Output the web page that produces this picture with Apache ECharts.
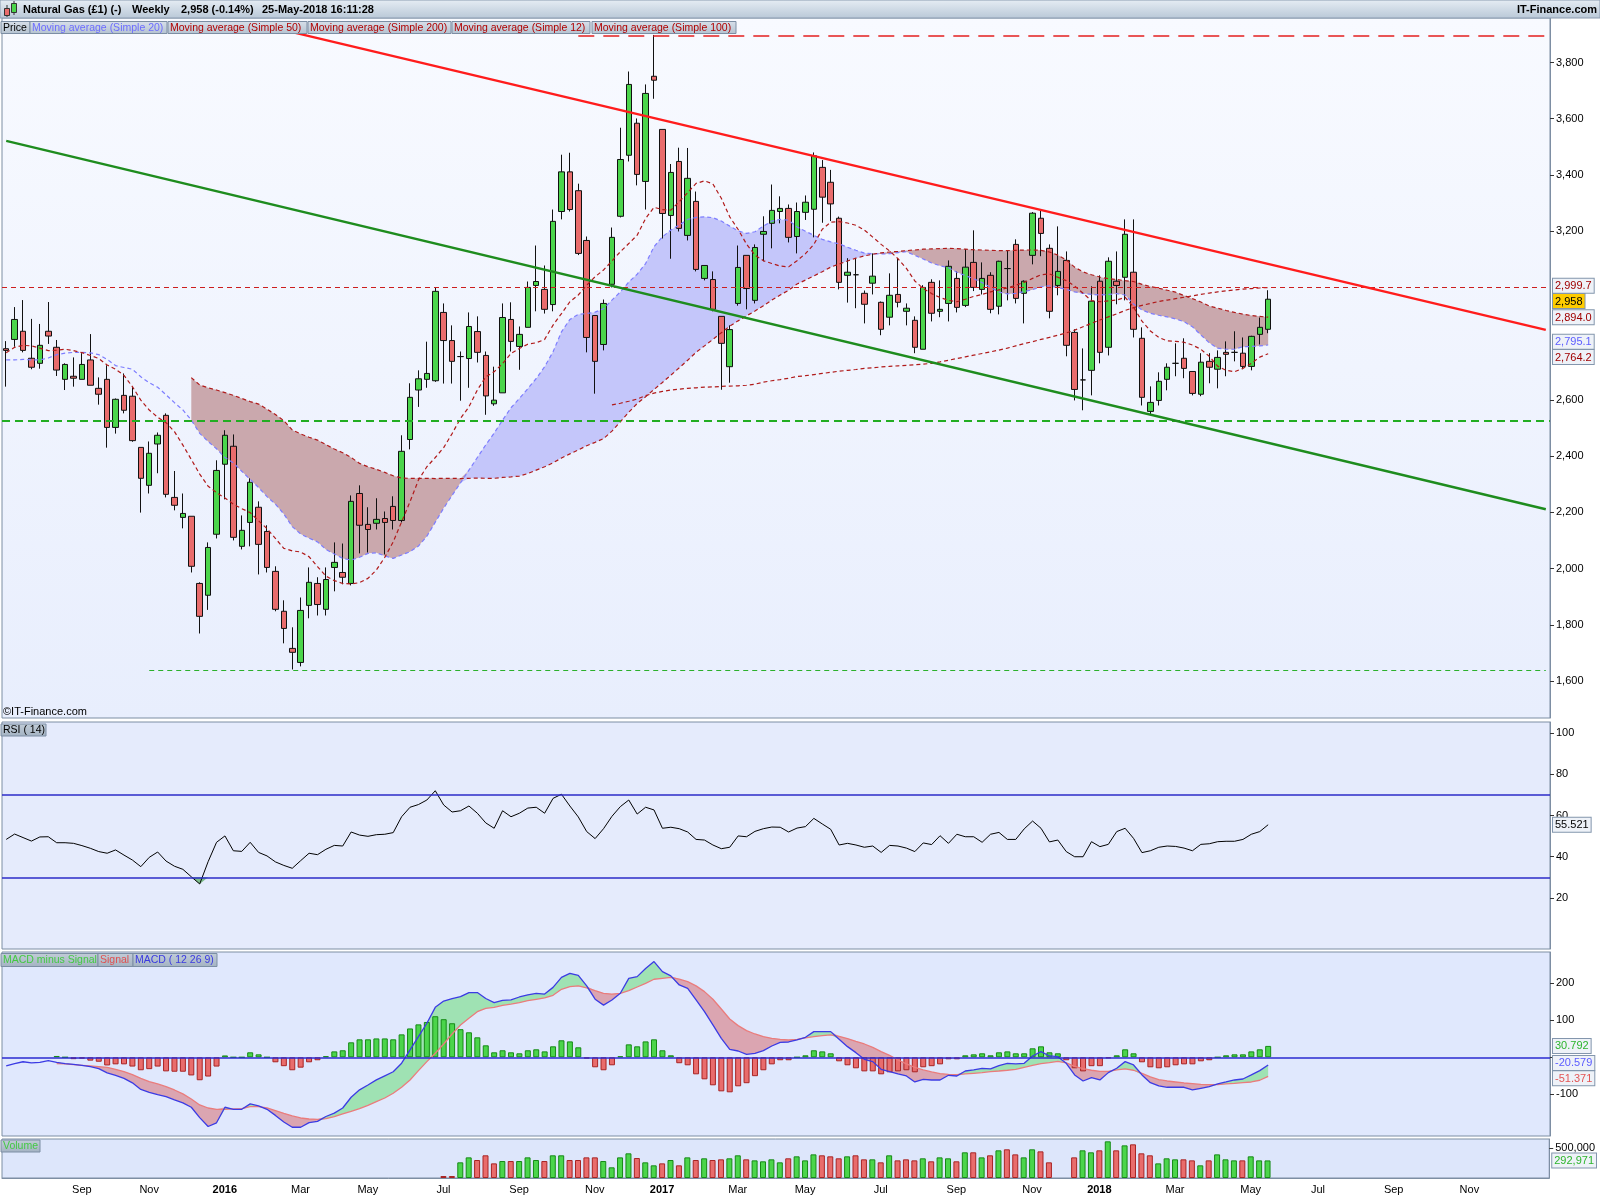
<!DOCTYPE html>
<html><head><meta charset="utf-8">
<script src="https://cdn.jsdelivr.net/npm/echarts@6/dist/echarts.min.js"></script>
<style>html,body{margin:0;padding:0;background:#fff}#c{width:1600px;height:1200px}</style>
</head><body><div id="c"></div>
<script>
// ---------- DATA ----------
const firstWeek = '2015-07-06';   // first weekly candle (Monday)
const weekCount = 184;            // axis runs on into future weeks
const monthNames = ['Jan','Feb','Mar','Apr','May','Jun','Jul','Aug','Sep','Oct','Nov','Dec'];

const openP = [2782,2815,2844,2748,2730,2844,2787,2673,2684,2673, 2742,2641,2673,2502,2616,2613,2431,2296,2443,2545,
 2253,2182,2186,1947,1905,2122,2371,2435,2079,2164, 2218,2132,1990,1848,1716,1666,1869,1947,1855,2004,
 1986,1947,2267,2157,2161,2178,2221,2171,2459,2635, 2673,2668,2911,2811,2754,2747,2843,2758,2586,2625,
 2886,2790,2858,3007,2993,2939,3270,3411,3344,3167, 2900,2797,3011,3253,3470,3584,3377,3751,3562,3256,
 3448,3185,3306,3032,3028,2897,2718,2943,3114,2954, 3189,3228,3270,3281,3181,3267,3278,3427,3374,3246,
 3043,3045,2979,3015,2947,2894,2975,2915,2883,2780, 3018,2915,2943,3032,2936,3089,2993,3043,2933,3067,
 3153,2979,3114,3246,3139,3007,3096,2840,2671,2705, 3022,2787,3022,3036,3054,2819,2559,2598,2673,2730,
 2748,2701,2620,2737,2709,2769,2769,2766,2719,2833, 2851];
const closeP = [2776,2886,2776,2716,2794,2827,2706,2726,2677,2726, 2652,2620,2502,2602,2563,2455,2321,2410,2474,2264,
 2225,2196,2008,1830,2075,2349,2474,2111,2136,2307, 2086,2004,1855,1787,1702,1851,1951,1872,1961,2022,
 1969,2239,2154,2139,2175,2164,2171,2417,2609,2675, 2694,2986,2811,2737,2754,2861,2769,2614,2599,2893,
 2808,2833,3000,3021,2922,3235,3411,3277,3121,2822, 2737,2943,3178,3455,3722,3402,3690,3737,3263,3409,
 3210,3388,3064,3078,2922,2801,2850,3071,2996,3142, 3199,3274,3281,3178,3270,3303,3468,3321,3297,3018,
 3054,3045,2940,3040,2851,2972,2947,2926,2787,3000, 2908,2922,3075,2929,3072,3000,3032,2922,3093,3067,
 2961,3022,3264,3192,2915,3057,2794,2637,2671,2951, 2769,3093,3007,3189,2851,2609,2591,2666,2716,2730,
 2712,2623,2734,2716,2751,2762,2769,2719,2826,2858, 2958];
const lowP = [2647,2789,2769,2709,2711,2799,2685,2635,2647,2673, 2652,2583,2430,2480,2552,2451,2199,2267,2339,2253,
 2207,2143,1986,1769,1853,2107,2246,2100,2068,2079, 1979,1986,1848,1734,1641,1652,1823,1833,1833,1919,
 1944,1940,2054,2057,2139,2050,2139,2164,2424,2575, 2643,2664,2658,2658,2597,2643,2733,2547,2579,2625,
 2772,2707,2858,2915,2907,2915,3242,3270,3115,2769, 2622,2776,3000,3249,3448,3363,3277,3671,3174,3102,
 3199,3167,3057,3025,2915,2636,2661,2935,2922,2943, 3093,3139,3228,3160,3121,3240,3178,3230,3236,2993,
 2946,2926,2872,2975,2830,2865,2929,2865,2766,2780, 2879,2894,2879,2911,2930,2987,2975,2908,2904,2954,
 2943,2872,3082,3111,2890,2972,2755,2598,2563,2616, 2730,2758,2940,2954,2822,2580,2548,2580,2634,2684,
 2677,2616,2613,2659,2641,2684,2737,2709,2705,2797, 2837];
const highP = [2809,2930,2955,2888,2870,2948,2813,2730,2751,2766, 2834,2680,2723,2605,2694,2645,2431,2452,2484,2552,
 2347,2267,2186,1951,2093,2385,2492,2477,2189,2321, 2239,2154,2008,1887,1791,1897,2004,1969,2004,2093,
 2089,2260,2296,2218,2250,2203,2257,2474,2659,2705, 2807,3000,2943,2865,2772,2911,2897,2772,2718,2943,
 2947,2861,3021,3149,3078,3277,3472,3479,3369,3181, 2900,2957,3213,3568,3768,3601,3722,3898,3562,3439,
 3497,3496,3341,3078,3057,2897,2865,3149,3114,3153, 3253,3366,3324,3295,3302,3327,3480,3453,3418,3252,
 3104,3104,2989,3121,2950,3050,3104,2943,2897,3008, 3029,3025,3096,3057,3136,3203,3089,3054,3095,3132,
 3171,3025,3268,3272,3153,3217,3128,2851,2783,3004, 3043,3107,3128,3242,3242,2858,2648,2698,2730,2801,
 2819,2701,2766,2766,2776,2808,2844,2822,2828,2893, 2990];

const ma20 = [2742,2742,2744,2742,2742,2749,2761,2766,2769,2769, 2767,2761,2744,2722,2715,2709,2682,2661,2645,2618,
 2590,2564,2528,2481,2452,2426,2395,2376,2346,2317, 2288,2256,2229,2194,2149,2123,2108,2095,2068,2052,
 2036,2030,2040,2054,2056,2045,2036,2048,2060,2080, 2115,2165,2215,2260,2305,2350,2395,2440,2482,2528,
 2572,2605,2640,2676,2718,2771,2842,2886,2904,2907, 2912,2924,2955,2984,3019,3047,3085,3145,3180,3204,
 3222,3242,3249,3251,3248,3236,3218,3201,3192,3198, 3218,3236,3242,3239,3215,3200,3185,3171,3162,3155,
 3143,3132,3122,3120,3119,3120,3124,3127,3114,3101, 3087,3077,3070,3054,3042,3031,3017,3000,2983,2977,
 2979,2985,2992,3002,3006,2999,2993,2984,2979,2975, 2973,2975,2978,2973,2941,2920,2908,2901,2895,2888,
 2878,2860,2831,2803,2784,2780,2780,2789,2790,2792, 2795.1];
const ma50 = [null,null,null,null,null,null,null,null,null,null, null,null,null,null,null,null,null,null,null,null,
 null,null,2679,2653,2643,2635,2626,2616,2605,2594, 2585,2567,2548,2526,2493,2479,2467,2457,2441,2425,
 2412,2395,2374,2362,2353,2342,2330,2322,2321,2321, 2321,2320,2321,2321,2320,2321,2322,2321,2321,2324,
 2326,2329,2338,2350,2362,2376,2393,2408,2422,2437, 2449,2462,2489,2522,2556,2587,2611,2637,2662,2688,
 2714,2741,2769,2792,2815,2839,2862,2881,2899,2916, 2935,2955,2973,2990,3012,3026,3041,3056,3072,3083,
 3094,3104,3112,3118,3123,3126,3128,3131,3133,3136, 3137,3138,3139,3138,3136,3134,3133,3132,3131,3131,
 3132,3133,3133,3132,3126,3115,3098,3072,3055,3045, 3037,3031,3028,3024,3021,3011,3003,2997,2990,2983,
 2971,2960,2948,2934,2926,2918,2911,2905,2900,2897, 2894.0];
const ma12 = [2768,2787,2794,2792,2784,2775,2777,2780,2775,2768, 2758,2747,2724,2709,2687,2647,2599,2564,2538,2519,
 2487,2439,2388,2336,2293,2270,2251,2229,2213,2199, 2170,2142,2107,2072,2063,2059,2042,2007,1973,1957,
 1947,1945,1950,1965,1995,2040,2095,2166,2238,2315, 2362,2395,2430,2480,2534,2575,2635,2682,2700,2729,
 2765,2783,2798,2803,2815,2866,2907,2949,2973,3008, 3038,3062,3094,3127,3156,3186,3245,3285,3277,3275,
 3305,3337,3370,3379,3368,3317,3251,3206,3154,3115, 3095,3085,3076,3073,3095,3120,3153,3207,3232,3234,
 3229,3221,3204,3179,3153,3130,3102,3068,3023,2996, 2978,2964,2954,2949,2958,2968,2975,2984,2991,2998,
 3008,3018,3032,3045,3048,3036,3024,3005,2979,2953, 2949,2952,2955,2965,2930,2880,2845,2822,2810,2808,
 2805,2795,2780,2755,2720,2705,2700,2712,2730,2752, 2764.2];
const ma100 = [null,null,null,null,null,null,null,null,null,null, null,null,null,null,null,null,null,null,null,null,
 null,null,null,null,null,null,null,null,null,null, null,null,null,null,null,null,null,null,null,null,
 null,null,null,null,null,null,null,null,null,null, null,null,null,null,null,null,null,null,null,null,
 null,null,null,null,null,null,null,null,null,null, null,null,2582,2588,2595,2603,2615,2624,2630,2635,
 2638,2641,2643,2645,2646,2648,2649,2650,2652,2656, 2663,2668,2672,2677,2683,2686,2690,2694,2698,2702,
 2705,2708,2712,2714,2717,2719,2721,2723,2725,2727, 2730,2735,2741,2747,2753,2759,2765,2771,2777,2784,
 2792,2800,2807,2815,2822,2830,2838,2848,2860,2872, 2884,2895,2906,2918,2928,2936,2943,2950,2955,2960,
 2965,2970,2975,2980,2984,2988,2991,2994,2996,2998, 2999.7];

const rsi = [48.4,51.0,49.3,47.6,49.6,49.7,46.8,46.8,46.5,45.4, 44.1,42.5,41.7,43.3,40.8,38.4,35.2,39.7,42.3,37.9,
 35.4,33.9,30.3,26.8,37.6,47.0,50.1,42.9,42.6,47.0, 42.1,40.4,37.5,35.8,34.4,38.1,41.7,41.0,43.6,45.5,
 45.2,52.0,50.5,49.9,50.7,50.9,51.7,59.4,64.0,65.3, 67.5,72.0,65.1,61.7,62.3,64.6,61.1,56.4,53.8,62.3,
 59.4,61.1,63.6,64.0,61.1,68.3,70.3,64.6,59.3,52.2, 48.8,53.6,59.6,64.3,67.5,60.7,64.0,62.7,53.8,54.3,
 53.6,52.0,48.4,48.1,45.7,43.9,44.6,50.1,49.7,52.3, 53.6,54.4,54.3,52.0,53.9,54.6,58.6,55.9,53.3,45.7,
 46.5,45.7,44.6,45.2,42.1,45.5,45.2,44.2,42.5,46.7, 45.9,50.2,46.5,50.9,49.7,49.7,47.0,50.9,51.8,48.4,
 48.4,53.5,57.3,53.8,47.2,48.1,42.5,40.0,40.0,47.3, 44.9,46.0,52.2,53.8,48.9,42.0,42.9,44.6,45.2,45.0,
 44.2,42.9,46.0,46.3,47.3,47.5,47.5,48.4,50.9,52.2, 55.521];
const rsiLevels = [70, 30];

const macd = [-23,-17,-12,-15,-13.5,-9,-13.5,-17,-19,-21.6, -25,-30.6,-42,-48.6,-56.8,-69,-87,-94.6,-101,-106,
 -115,-123,-135,-163,-187,-177,-135,-140.5,-140.5,-126, -131.5,-140.5,-157,-175,-189,-189,-176.6,-173,-160,-151,
 -137,-108,-88,-75,-61,-50,-39,-16,20,56, 92,135,152,158.5,164,175,175,159,148,154,
 155,163,169,173,171,189,216,227,221.6,193, 157,141,155,173,213.5,218,240,258.6,231.5,220,
 195.5,186.5,155,123.4,87.4,51.4,21.6,17,8,10.8, 18,30.6,40.5,41.4,46.8,54,69.4,69.4,69.4,48.6,
 28.8,12.6,-5.4,-11.7,-32.4,-38.7,-45,-50.5,-66.7,-59.5, -61.3,-61.3,-48.6,-50.5,-37,-34.2,-29.7,-31.5,-22.5,-16.2,
 -18,-16.2,3.6,15.3,3.6,1.8,-16.2,-47.7,-64,-55, -61.3,-41.4,-29.7,-11.7,-20.7,-47.7,-68.5,-77.5,-81,-81,
 -81,-88.3,-83.8,-79.3,-72,-66.7,-61.3,-58.6,-47.7,-36, -20.579];
const signal = [null,null,null,null,null,null,-17,-18,-19.8,-21.6, -23.4,-25.2,-27,-32.4,-38.7,-46.8,-56.8,-65.8,-72,-79.3,
 -88.3,-99,-112.6,-128.8,-137,-140.5,-140.5,-139.6,-138.7,-133.3, -133.3,-137,-144,-151.4,-158.6,-164,-166.7,-167.6,-165.8,-160.4,
 -153,-146,-138.7,-129.7,-119.8,-110,-97.3,-81,-61.3,-36, -11.7,10.8,36,63,87.4,105.4,123.4,132.4,135,140.5,
 144,147.7,153,156.8,160.4,167.6,183.8,191,192.8,187.4, 180,173,171,173,180,190,200,211,213.5,216,
 211,204.5,193,177.5,157,130.6,103.6,85.6,72,63, 55.9,51.4,48.6,46.8,48.6,52.3,55.9,58.6,60.4,56.8,
 50.5,43.2,36,27,15.3,5.4,-7.2,-18,-27,-34.2, -39.6,-44,-46,-46.8,-45,-43.2,-41.4,-38.7,-37,-35,
 -32.4,-27,-21.6,-17,-14.4,-10.8,-15.3,-24.3,-30.6,-35, -37.8,-37.8,-34.2,-31.5,-35,-43.2,-53,-60.4,-64,-66.7,
 -69.4,-71.2,-73,-73.9,-73.9,-72,-70.3,-68.5,-66.7,-62, -51.371];
const hist = [null,null,null,null,null,null,3.6,0,-5,-3.6, -9,-12,-22,-19,-19,-25,-35,-32,-25,-38,
 -39,-39,-49,-62,-52,-25,5,0,0,13.5, 8,0,-13.5,-24,-35,-28,-13.5,-8,3,16,
 19,40.5,48.6,48.6,51,51,48.6,62,78,89, 95.5,111,103,92,76,67.6,54,32.4,13.5,19,
 13.5,10.8,19,21.6,16,29.7,46,43,27,-3.6, -27,-35,-21.6,2.7,35,29.7,43,48.6,19,5.4,
 -16,-21.6,-46,-59.5,-75.7,-92,-94.6,-78.4,-70,-51, -35,-19,-8,-8,0,5.4,19,16,10.8,-10.8,
 -21.6,-29.7,-38,-38,-46,-40.5,-38,-35,-40.5,-27, -24,-19,-5.4,-5.4,5.4,8,10.8,5.4,13.5,16,
 10.8,10.8,24.3,29.7,13.5,10.8,-8,-29.7,-38,-24, -24,-2.7,5.4,21.6,10.8,-13.5,-27,-29.7,-27,-21.6,
 -19,-19,-10.8,-8,0,5.4,8,8,16,21.6, 30.792];

const volume = [null,null,null,null,null,null,null,null,null,null, null,null,null,null,null,null,null,null,null,null,
 null,null,null,null,null,null,null,null,null,null, null,null,null,null,null,null,null,null,null,null,
 null,null,null,null,null,null,null,null,null,null, null,null,33000,33000,261000,344000,300000,378000,244000,283000,
 283000,283000,344000,300000,283000,378000,378000,300000,300000,344000, 344000,283000,178000,344000,411000,333000,261000,211000,244000,300000,
 211000,344000,300000,328000,300000,311000,328000,378000,311000,294000, 278000,311000,261000,328000,361000,294000,394000,378000,361000,328000,
 361000,378000,311000,311000,261000,378000,294000,311000,294000,328000, 278000,344000,328000,278000,428000,428000,344000,378000,461000,478000,
 394000,344000,478000,444000,261000,null,null,344000,461000,428000, 461000,611000,461000,544000,561000,411000,378000,244000,328000,311000,
 311000,294000,211000,294000,394000,311000,294000,294000,361000,294000, 292971];

// annotations drawn on the price panel: [weekIndex, price]
const redTrend = [[30, 3936.5], [183, 2849]];
const greenTrend = [[0, 3521], [183, 2211]];
const supportLevel = 2525;
const lowLevel = [[17, 1639], [183, 1639]];
const highLevel = [[68, 3896], [183, 3896]];
const refLevel = 2999.7;

const priceTicks = [1600,1800,2000,2200,2400,2600,3200,3400,3600,3800];
const rsiTicks = [20,40,60,80,100];
const macdTicks = [-100,100,200];
const macdTickMarks = [-100,0,100,200];
const volTicks = [500000];

// ---------- BUILD ----------
const cats = [];
{ const d0 = Date.parse(firstWeek + 'T00:00:00Z');
  for (let k = 0; k < weekCount; k++) cats.push(new Date(d0 + k * 7 * 86400000).toISOString().slice(0, 10)); }
const isLabelWeek = (idx) => idx > 0 && idx < cats.length - 3 && cats[idx].slice(5,7) !== cats[idx-1].slice(5,7) && (+cats[idx].slice(5,7)) % 2 === 1;
const last = a => a[a.length - 1];
const fmt = (v, d) => v.toLocaleString('en-US', {minimumFractionDigits: d, maximumFractionDigits: d});

const GREEN = '#4bd54b', RED = '#e96c6c', GREEN_B = '#168a16', RED_B = '#a82424';
const FONT = 'Liberation Sans, Arial, sans-serif';

const candles = openP.map((o, i) => [o, closeP[i], lowP[i], highP[i]]);
const maLow = ma20.map((v, i) => (v == null || ma50[i] == null) ? null : Math.min(v, ma50[i]));
const maBlue = ma20.map((v, i) => (v == null || ma50[i] == null) ? null : Math.max(v - ma50[i], 0));
const maBrown = ma20.map((v, i) => (v == null || ma50[i] == null) ? null : Math.max(ma50[i] - v, 0));
const rsiLow = rsi.map(v => Math.min(v, rsiLevels[1]));
const rsiDip = rsi.map(v => rsiLevels[1] - Math.min(v, rsiLevels[1]));
const mcLow = macd.map((v, i) => signal[i] == null ? null : Math.min(v, signal[i]));
const mcUp = macd.map((v, i) => signal[i] == null ? null : Math.max(v - signal[i], 0));
const mcDn = macd.map((v, i) => signal[i] == null ? null : Math.max(signal[i] - v, 0));
const histData = hist.map(v => v == null ? null : {value: v, itemStyle: {color: v >= 0 ? GREEN : RED, borderColor: v >= 0 ? GREEN_B : RED_B, borderWidth: 1}});
const volData = volume.map((v, i) => { if (v == null) return null; const up = closeP[i] >= closeP[i-1];
  return {value: v, itemStyle: {color: up ? GREEN : RED, borderColor: up ? GREEN_B : RED_B, borderWidth: 1}}; });

const boxBase = {fontSize: 11, fontFamily: FONT, backgroundColor: '#eef2f8', borderColor: '#8396ad', borderWidth: 1, padding: [2, 2, 1, 2], lineHeight: 11};
const rich = {
  ma: Object.assign({}, boxBase, {color: '#a00000'}),
  px: Object.assign({}, boxBase, {color: '#000', backgroundColor: '#ffcc00'}),
  bl: Object.assign({}, boxBase, {color: '#5c5cff'}),
  bk: Object.assign({}, boxBase, {color: '#000'}),
  gr: Object.assign({}, boxBase, {color: '#2db52d'}),
  rd: Object.assign({}, boxBase, {color: '#e35555'})
};
const priceMarks = [{v: last(ma100), s: 'ma', d: 1}, {v: last(closeP), s: 'px', d: 0}, {v: last(ma50), s: 'ma', d: 1},
                    {v: last(ma20), s: 'bl', d: 1}, {v: last(ma12), s: 'ma', d: 1}];
const rsiMarks = [{v: last(rsi), s: 'bk', d: 3}];
const macdMarks = [{v: last(hist), s: 'gr', d: 3}, {v: last(macd), s: 'bl', d: 3}, {v: last(signal), s: 'rd', d: 3}];
const volMarks = [{v: last(volume), s: 'gr', d: 0}];

const grids = [
  {left: 2, right: 50, top: 18, height: 700},
  {left: 2, right: 50, top: 722, height: 227},
  {left: 2, right: 50, top: 952, height: 184},
  {left: 2, right: 50, top: 1139, height: 39}
];
const gridBg = [
  {type: 'linear', x: 0, y: 0, x2: 0, y2: 1, colorStops: [{offset: 0, color: '#f8faff'}, {offset: 1, color: '#e8eefd'}]},
  '#e5ebfc', '#e0e8fd', '#dde6fb'
];
grids.forEach((g, k) => Object.assign(g, {show: true, backgroundColor: gridBg[k], borderColor: '#7d8ea3', borderWidth: 1}));

const xAxes = grids.map((g, k) => ({
  type: 'category', gridIndex: k, data: cats, boundaryGap: true, show: k === 3,
  axisLine: {lineStyle: {color: '#7d8ea3'}},
  axisTick: {interval: isLabelWeek, alignWithLabel: true, length: 5, lineStyle: {color: '#333'}},
  axisLabel: {interval: isLabelWeek, margin: 6, fontSize: 11, color: '#000', fontFamily: FONT,
    formatter: v => { const m = +v.slice(5, 7); return m === 1 ? '{y|' + v.slice(0, 4) + '}' : monthNames[m - 1]; },
    rich: {y: {fontWeight: 'bold', fontSize: 11, fontFamily: FONT, color: '#000'}}},
  splitLine: {show: false}
}));

const ranges = [[1468.4, 3958.3], [-4.73, 105.33], [-212.7, 284.6], [0, 650000]];
const tickLists = [priceTicks, rsiTicks, macdTicks, volTicks];
const tickMarkLists = [priceTicks, rsiTicks, macdTickMarks, volTicks];
const markLists = [priceMarks, rsiMarks, macdMarks, volMarks];
const yAxes = [];
ranges.forEach((r, k) => {
  yAxes.push({type: 'value', gridIndex: k, position: 'right', min: r[0], max: r[1], scale: true,
    axisLine: {show: true, lineStyle: {color: '#7d8ea3'}},
    axisTick: {show: true, customValues: tickMarkLists[k], length: 4, lineStyle: {color: '#333'}},
    axisLabel: {customValues: tickLists[k], margin: 6, fontSize: 11, color: '#000', fontFamily: FONT,
      showMinLabel: true, showMaxLabel: true, formatter: v => fmt(v, 0)},
    splitLine: {show: false}});
});
// last-value boxes: spread apart vertically like the reference (min 15px between box centres)
function spreadBoxes(marks, range, heightPx) {
  const gap = 15.3 * (range[1] - range[0]) / heightPx;
  const pos = marks.map(m => m.v);
  for (let it = 0; it < 20; it++) {
    for (let i = 1; i < pos.length; i++) {
      const diff = pos[i - 1] - pos[i];
      if (diff < gap) { const d = (gap - diff) / 2; pos[i - 1] += d; pos[i] -= d; }
    }
  }
  return pos;
}
ranges.forEach((r, k) => {
  const pos = spreadBoxes(markLists[k], r, grids[k].height);
  markLists[k].forEach((m, j) => {
    yAxes.push({type: 'value', gridIndex: k, position: 'right', min: r[0], max: r[1], scale: true,
      axisLine: {show: false}, axisTick: {show: false}, splitLine: {show: false},
      axisLabel: {customValues: [pos[j]], margin: 3, showMinLabel: true, showMaxLabel: true,
        formatter: () => '{' + m.s + '|' + fmt(m.v, m.d) + '}', rich: rich}});
  });
});

const noLine = {opacity: 0, width: 0};
const series = [
  // MA20 / MA50 band
  {type: 'line', xAxisIndex: 0, yAxisIndex: 0, data: maLow, stack: 'maf', stackStrategy: 'all', symbol: 'none', lineStyle: noLine, silent: true, z: 1},
  {type: 'line', xAxisIndex: 0, yAxisIndex: 0, data: maBlue, stack: 'maf', stackStrategy: 'all', symbol: 'none', lineStyle: noLine, areaStyle: {color: '#c4c6fa', opacity: 1}, silent: true, z: 1},
  {type: 'line', xAxisIndex: 0, yAxisIndex: 0, data: maBrown, stack: 'maf', stackStrategy: 'all', symbol: 'none', lineStyle: noLine, areaStyle: {color: '#caa8ad', opacity: 1}, silent: true, z: 1},
  {type: 'candlestick', xAxisIndex: 0, yAxisIndex: 0, data: candles, barWidth: 6, z: 3,
    itemStyle: {color: GREEN, color0: RED, borderColor: '#111', borderColor0: '#111', borderColorDoji: '#111', borderWidth: 1},
    markLine: {symbol: ['none', 'none'], silent: true, animation: false, z: 6, label: {show: false},
      data: [
        {yAxis: refLevel, lineStyle: {color: '#cc1e1e', width: 1.2, type: [5, 4]}},
        {yAxis: supportLevel, lineStyle: {color: '#22ad22', width: 2.2, type: [8, 5]}},
        [{coord: lowLevel[0], lineStyle: {color: '#2cb02c', width: 1.2, type: [5, 4]}}, {coord: lowLevel[1]}],
        [{coord: highLevel[0], lineStyle: {color: '#e41f1f', width: 1.5, type: [16, 9]}}, {coord: highLevel[1]}],
        [{coord: greenTrend[0], lineStyle: {color: '#1e8c1e', width: 2.4, type: 'solid'}}, {coord: greenTrend[1]}],
        [{coord: redTrend[0], lineStyle: {color: '#ff1c1c', width: 2.4, type: 'solid'}}, {coord: redTrend[1]}]
      ]}},
  {type: 'line', xAxisIndex: 0, yAxisIndex: 0, data: ma20, symbol: 'none', silent: true, z: 4, lineStyle: {color: '#7d7dff', width: 1.2, type: [4, 3]}},
  {type: 'line', xAxisIndex: 0, yAxisIndex: 0, data: ma50, symbol: 'none', silent: true, z: 4, lineStyle: {color: '#b01a1a', width: 1.2, type: [4, 3]}},
  {type: 'line', xAxisIndex: 0, yAxisIndex: 0, data: ma12, symbol: 'none', silent: true, z: 4, lineStyle: {color: '#b01a1a', width: 1.2, type: [4, 3]}},
  {type: 'line', xAxisIndex: 0, yAxisIndex: 0, data: ma100, symbol: 'none', silent: true, z: 4, lineStyle: {color: '#b01a1a', width: 1.2, type: [4, 3]}},
  // RSI
  {type: 'line', xAxisIndex: 1, yAxisIndex: 1, data: rsiLow, stack: 'rsif', stackStrategy: 'all', symbol: 'none', lineStyle: noLine, silent: true, z: 1},
  {type: 'line', xAxisIndex: 1, yAxisIndex: 1, data: rsiDip, stack: 'rsif', stackStrategy: 'all', symbol: 'none', lineStyle: noLine, areaStyle: {color: '#7fbf8c', opacity: 1}, silent: true, z: 1},
  {type: 'line', xAxisIndex: 1, yAxisIndex: 1, data: rsi, symbol: 'none', silent: true, z: 3, lineStyle: {color: '#000', width: 1},
    markLine: {symbol: ['none', 'none'], silent: true, animation: false, label: {show: false},
      lineStyle: {color: '#2b2bc8', width: 1.5, type: 'solid'}, data: rsiLevels.map(v => ({yAxis: v}))}},
  // MACD
  {type: 'line', xAxisIndex: 2, yAxisIndex: 2, data: mcLow, stack: 'mcf', stackStrategy: 'all', symbol: 'none', lineStyle: noLine, silent: true, z: 1},
  {type: 'line', xAxisIndex: 2, yAxisIndex: 2, data: mcUp, stack: 'mcf', stackStrategy: 'all', symbol: 'none', lineStyle: noLine, areaStyle: {color: '#9fe2b3', opacity: 1}, silent: true, z: 1},
  {type: 'line', xAxisIndex: 2, yAxisIndex: 2, data: mcDn, stack: 'mcf', stackStrategy: 'all', symbol: 'none', lineStyle: noLine, areaStyle: {color: '#dba5b1', opacity: 1}, silent: true, z: 1},
  {type: 'bar', xAxisIndex: 2, yAxisIndex: 2, data: histData, barWidth: 6, silent: true, z: 2,
    markLine: {symbol: ['none', 'none'], silent: true, animation: false, label: {show: false},
      lineStyle: {color: '#2b2bd0', width: 1.5, type: 'solid'}, data: [{yAxis: 0}]}},
  {type: 'line', xAxisIndex: 2, yAxisIndex: 2, data: signal, symbol: 'none', silent: true, z: 3, lineStyle: {color: '#ea7c7c', width: 1.3}},
  {type: 'line', xAxisIndex: 2, yAxisIndex: 2, data: macd, symbol: 'none', silent: true, z: 3, lineStyle: {color: '#3b3be4', width: 1.3}},
  // Volume
  {type: 'bar', xAxisIndex: 3, yAxisIndex: 3, data: volData, barWidth: 6, silent: true, z: 2}
];

// ---------- TEXT OVERLAYS ----------
const boxGrad = {type: 'linear', x: 0, y: 0, x2: 0, y2: 1, colorStops: [{offset: 0, color: '#d8e0ea'}, {offset: 1, color: '#b4c2d0'}]};
const darkGrad = {type: 'linear', x: 0, y: 0, x2: 0, y2: 1, colorStops: [{offset: 0, color: '#c2cdd8'}, {offset: 1, color: '#a3b2c2'}]};
const LEG_FONT = '10.5px ' + FONT;
function legendBox(x, y, w, h, text, color, fill) {
  return [{type: 'rect', z: 100, shape: {x: x, y: y, width: w, height: h}, style: {fill: fill || boxGrad, stroke: '#7c8ea4', lineWidth: 1}},
          {type: 'text', z: 101, x: x + 2, y: y + h / 2 + 0.5, style: {text: text, fill: color, font: LEG_FONT, textVerticalAlign: 'middle'}}];
}
const graphics = [
  {type: 'rect', z: 100, shape: {x: 0, y: 0, width: 1600, height: 18},
   style: {fill: {type: 'linear', x: 0, y: 0, x2: 0, y2: 1, colorStops: [{offset: 0, color: '#e6edf4'}, {offset: 1, color: '#b9c8d7'}]}, stroke: '#8a9bb0', lineWidth: 1}},
  {type: 'line', z: 101, shape: {x1: 7, y1: 5, x2: 7, y2: 17}, style: {stroke: '#333', lineWidth: 1}},
  {type: 'rect', z: 102, shape: {x: 4.5, y: 8.5, width: 5, height: 7}, style: {fill: RED, stroke: '#333', lineWidth: 1}},
  {type: 'line', z: 101, shape: {x1: 14, y1: 1, x2: 14, y2: 15}, style: {stroke: '#333', lineWidth: 1}},
  {type: 'rect', z: 102, shape: {x: 11.5, y: 3.5, width: 5, height: 9}, style: {fill: GREEN, stroke: '#333', lineWidth: 1}},
  {type: 'text', z: 101, x: 23, y: 10, style: {text: 'Natural Gas (£1) (-)', fill: '#000', font: 'bold 11px ' + FONT, textVerticalAlign: 'middle'}},
  {type: 'text', z: 101, x: 132, y: 10, style: {text: 'Weekly', fill: '#000', font: 'bold 11px ' + FONT, textVerticalAlign: 'middle'}},
  {type: 'text', z: 101, x: 181, y: 10, style: {text: '2,958 (-0.14%)', fill: '#000', font: 'bold 11px ' + FONT, textVerticalAlign: 'middle'}},
  {type: 'text', z: 101, x: 262, y: 10, style: {text: '25-May-2018 16:11:28', fill: '#000', font: 'bold 11px ' + FONT, textVerticalAlign: 'middle'}},
  {type: 'text', z: 101, x: 1597, y: 10, style: {text: 'IT-Finance.com', fill: '#000', font: 'bold 11px ' + FONT, textAlign: 'right', textVerticalAlign: 'middle'}},
  ...legendBox(1, 21.5, 29, 12, 'Price', '#000'),
  ...legendBox(30, 21.5, 137, 12, 'Moving average (Simple 20)', '#6c6cff'),
  ...legendBox(168, 21.5, 139, 12, 'Moving average (Simple 50)', '#b00000'),
  ...legendBox(308, 21.5, 143, 12, 'Moving average (Simple 200)', '#b00000'),
  ...legendBox(452, 21.5, 138, 12, 'Moving average (Simple 12)', '#b00000'),
  ...legendBox(592, 21.5, 144, 12, 'Moving average (Simple 100)', '#b00000'),
  {type: 'text', z: 101, x: 3, y: 712, style: {text: '©IT-Finance.com', fill: '#000', font: '11px ' + FONT, textVerticalAlign: 'middle'}},
  ...legendBox(1, 724, 45, 12, 'RSI ( 14)', '#000', darkGrad),
  ...legendBox(1, 953.5, 97, 13, 'MACD minus Signal', '#43c943', darkGrad),
  ...legendBox(98, 953.5, 35, 13, 'Signal', '#e05050', darkGrad),
  ...legendBox(133, 953.5, 84, 13, 'MACD ( 12 26 9)', '#3a3ae0', darkGrad),
  ...legendBox(1, 1140, 39, 12, 'Volume', '#43c943', darkGrad)
];

const chart = echarts.init(document.getElementById('c'), null, {renderer: 'canvas'});
chart.setOption({
  animation: false,
  backgroundColor: '#ffffff',
  textStyle: {fontFamily: FONT},
  grid: grids, xAxis: xAxes, yAxis: yAxes, series: series, graphic: graphics
});
</script></body></html>
